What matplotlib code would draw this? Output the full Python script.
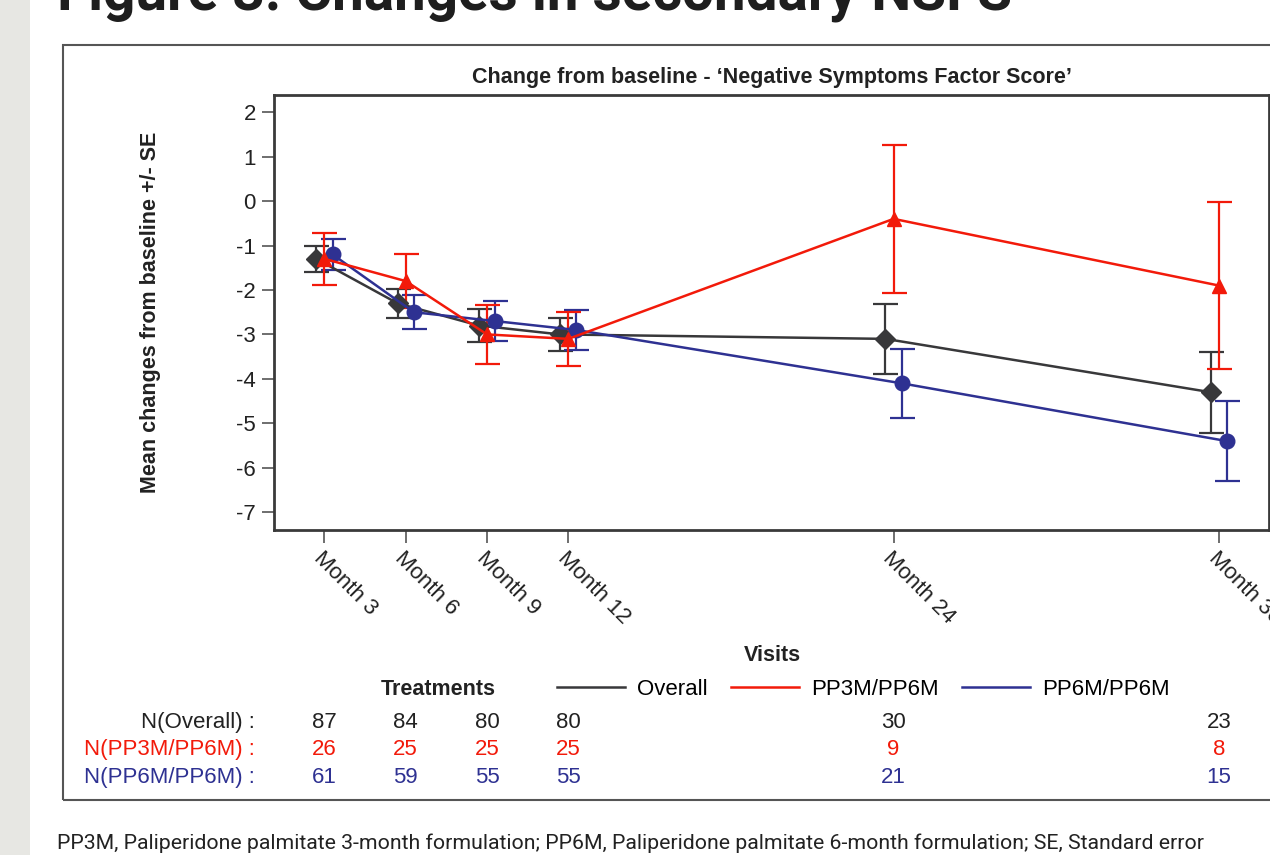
#!/usr/bin/env python3
# nsfs_change.py

import matplotlib
matplotlib.use("Agg")
import matplotlib.pyplot as plt
from matplotlib.patches import Rectangle
from matplotlib.lines import Line2D
from matplotlib.transforms import blended_transform_factory

months = [3, 6, 9, 12, 24, 36]
month_labels = ["Month 3", "Month 6", "Month 9", "Month 12", "Month 24", "Month 36"]

overall_mean = [-1.3, -2.3, -2.8, -3.0, -3.1, -4.3]
overall_se = [0.30, 0.32, 0.37, 0.37, 0.78, 0.91]
pp3m_mean = [-1.3, -1.8, -3.0, -3.1, -0.4, -1.9]
pp3m_se = [0.59, 0.60, 0.67, 0.61, 1.67, 1.88]
pp6m_mean = [-1.2, -2.5, -2.7, -2.9, -4.1, -5.4]
pp6m_se = [0.34, 0.38, 0.45, 0.46, 0.78, 0.90]

n_overall = [87, 84, 80, 80, 30, 23]
n_pp3m = [26, 25, 25, 25, 9, 8]
n_pp6m = [61, 59, 55, 55, 21, 15]

DARK = "#38383a"
RED = "#f21a0a"
BLUE = "#2e3192"
TXT = "Liberation Sans"
POSTER = "Roboto"

plt.rcParams["axes.unicode_minus"] = False


def plot(fig, ax):
    series = [
        (overall_mean, overall_se, DARK, "D", -0.3, 10, "Overall"),
        (pp6m_mean, pp6m_se, BLUE, "o", 0.3, 10.5, "PP6M/PP6M"),
        (pp3m_mean, pp3m_se, RED, "^", 0.0, 10, "PP3M/PP6M"),
    ]
    for mean, se, col, mk, off, ms, lab in series:
        xs = [m + off for m in months]
        ax.errorbar(xs, mean, yerr=se, color=col, ecolor=col, marker=mk,
                    markersize=ms, linewidth=1.8, elinewidth=1.6,
                    capsize=9, capthick=1.6, label=lab)

    ax.set_xlim(1.14, 37.85)
    ax.set_ylim(-7.40, 2.38)
    ax.set_yticks(range(-7, 3))
    ax.set_xticks(months)
    ax.set_xticklabels(month_labels, rotation=-45, ha="left", va="top",
                       rotation_mode="anchor", family=TXT, fontsize=16,
                       color="#222222")
    for t in ax.get_yticklabels():
        t.set_family(TXT)
        t.set_fontsize(16)
        t.set_color("#222222")
    ax.tick_params(length=9, width=1.2, color="#555555", pad=4)
    for sp in ax.spines.values():
        sp.set_color("#3a3a3a")
        sp.set_linewidth(2)

    ax.set_title("Change from baseline - \u2018Negative Symptoms Factor Score\u2019",
                 family=TXT, fontweight="bold", fontsize=15.5, pad=9,
                 color="#222222")
    ax.set_ylabel("Mean changes from baseline +/- SE", family=TXT,
                  fontweight="bold", fontsize=15.5, color="#222222")
    ax.yaxis.set_label_coords(-0.114, 0.5)

    # labels under the axis
    fig.text(772 / 1270, 1 - 655 / 855, "Visits", family=TXT,
             fontweight="bold", fontsize=15.5, ha="center", va="center",
             color="#222222")
    fig.text(438 / 1270, 1 - 689 / 855, "Treatments", family=TXT,
             fontweight="bold", fontsize=15.5, ha="center", va="center",
             color="#222222")

    handles = [Line2D([], [], color=DARK, lw=1.8),
               Line2D([], [], color=RED, lw=1.8),
               Line2D([], [], color=BLUE, lw=1.8)]
    fig.legend(handles, ["Overall", "PP3M/PP6M", "PP6M/PP6M"], ncol=3,
               loc="center left", bbox_to_anchor=(557 / 1270, 1 - 689 / 855),
               frameon=False, borderpad=0, borderaxespad=0,
               handlelength=3.06, handletextpad=0.54, columnspacing=1.05,
               prop={"family": TXT, "size": 16})

    # N at risk table
    tr = blended_transform_factory(ax.transData, fig.transFigure)
    rows = [("N(Overall) :", n_overall, "#222222", 722),
            ("N(PP3M/PP6M) :", n_pp3m, RED, 749),
            ("N(PP6M/PP6M) :", n_pp6m, BLUE, 777)]
    for lab, vals, col, ypx in rows:
        fy = 1 - ypx / 855
        fig.text(255 / 1270, fy, lab, family=TXT, fontsize=16, color=col,
                 ha="right", va="center")
        for m, v in zip(months, vals):
            ax.text(m, fy, str(v), transform=tr, family=TXT, fontsize=16,
                    color=col, ha="center", va="center", clip_on=False)

    # outer frame and poster bits
    fig.patches.append(Rectangle((63 / 1270, 1 - 800 / 855), 1.2,
                                 755 / 855, transform=fig.transFigure,
                                 fill=False, edgecolor="#555555", lw=1.5))
    fig.patches.append(Rectangle((0, 0), 30 / 1270, 1,
                                 transform=fig.transFigure,
                                 facecolor="#e7e7e3", edgecolor="none"))
    fig.text(57 / 1270, 1 - 9 / 855, "Figure 3: Changes in secondary NSFS",
             family=POSTER, fontweight="bold", fontsize=40.8, ha="left",
             va="baseline", color="#1e1e1e")
    fig.text(57 / 1270, 1 - 843 / 855,
             "PP3M, Paliperidone palmitate 3-month formulation; "
             "PP6M, Paliperidone palmitate 6-month formulation; "
             "SE, Standard error",
             family=POSTER, fontsize=15.3, ha="left", va="center",
             color="#222222")


def main():
    fig = plt.figure(figsize=(12.7, 8.55), dpi=100)
    ax = fig.add_axes([274 / 1270, 1 - 530 / 855, 995 / 1270,
                       (530 - 95.3) / 855])
    plot(ax.figure, ax)
    fig.savefig("out.png", dpi=100)


if __name__ == "__main__":
    main()
